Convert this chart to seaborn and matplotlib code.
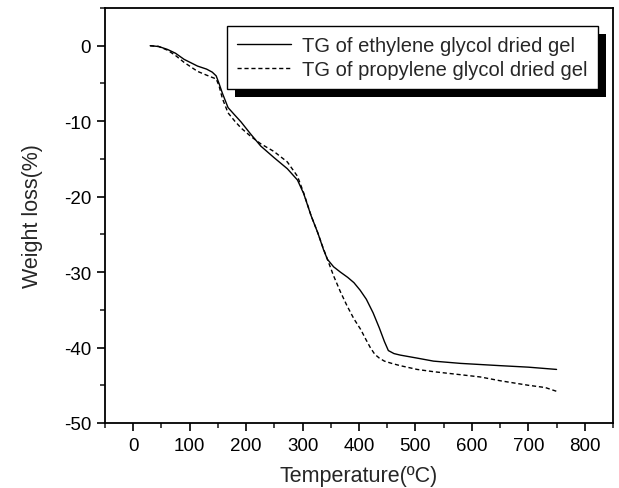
import matplotlib
matplotlib.use("Agg")
import matplotlib.pyplot as plt
from matplotlib.patches import Rectangle
from matplotlib.transforms import IdentityTransform
from matplotlib.ticker import MultipleLocator
import numpy as np
import pandas as pd
import seaborn as sns

# Thermogravimetric curves of the two dried gels
temp_eg = [30, 45, 61, 75, 90, 114, 130, 140, 147, 152, 158, 168, 180, 191, 208,
           226, 249, 273, 291, 302, 315, 327, 337, 344, 355, 367, 380, 391, 402,
           413, 425, 436, 445, 452, 462, 473, 503, 532, 580, 650, 700, 750]
loss_eg = [0, -0.1, -0.5, -1.0, -1.8, -2.7, -3.1, -3.5, -4.0, -5.0, -6.3, -8.2,
           -9.2, -10.1, -11.7, -13.3, -14.8, -16.3, -17.8, -19.6, -22.5, -24.8,
           -27.0, -28.3, -29.3, -30.0, -30.7, -31.4, -32.4, -33.6, -35.4, -37.4,
           -39.2, -40.4, -40.8, -41.0, -41.4, -41.8, -42.1, -42.4, -42.6, -42.9]

temp_pg = [30, 45, 61, 75, 90, 114, 130, 140, 147, 152, 158, 168, 180, 191, 208,
           226, 249, 273, 291, 302, 315, 327, 335, 345, 355, 367, 379, 391, 403,
           412, 420, 428, 436, 445, 458, 473, 503, 532, 580, 615, 650, 700, 730, 750]
loss_pg = [0, -0.1, -0.6, -1.3, -2.2, -3.4, -3.9, -4.2, -4.4, -5.3, -7.0, -8.9,
           -10.0, -10.9, -12.0, -13.0, -14.0, -15.4, -17.3, -19.5, -22.5, -24.8,
           -26.5, -28.5, -30.5, -32.6, -34.5, -36.2, -37.6, -38.9, -40.0, -40.9,
           -41.4, -41.8, -42.1, -42.4, -42.9, -43.2, -43.6, -43.9, -44.4, -45.0,
           -45.3, -45.8]

label_eg = "TG of ethylene glycol dried gel"
label_pg = "TG of propylene glycol dried gel"

df = pd.concat([
    pd.DataFrame({"T": temp_eg, "W": loss_eg, "sample": label_eg}),
    pd.DataFrame({"T": temp_pg, "W": loss_pg, "sample": label_pg}),
], ignore_index=True)

sns.set_theme(style="ticks")
plt.rcParams["font.family"] = ["Liberation Sans", "DejaVu Sans"]
plt.rcParams["axes.unicode_minus"] = False

fig = plt.figure(figsize=(6.19, 4.89), dpi=100)
ax = fig.add_axes([105 / 619, 1 - 424 / 489, (613 - 105) / 619, (424 - 9) / 489])

sns.lineplot(data=df, x="T", y="W", style="sample", sort=False,
             dashes={label_eg: "", label_pg: (3, 2)}, color="black",
             linewidth=1.0, ax=ax, legend=True)

ax.set_xlim(-50, 850)
ax.set_ylim(-50, 5)
ax.xaxis.set_major_locator(MultipleLocator(100))
ax.xaxis.set_minor_locator(MultipleLocator(50))
ax.yaxis.set_major_locator(MultipleLocator(10))
ax.yaxis.set_minor_locator(MultipleLocator(5))
ax.tick_params(which="major", direction="out", length=6, width=1.2,
               labelsize=13.5, colors="black", pad=4)
ax.tick_params(which="minor", direction="out", length=3.5, width=1.2)
for s in ax.spines.values():
    s.set_visible(True)
    s.set_linewidth(1.3)
    s.set_color("black")

ax.set_xlabel("Temperature(ºC)", fontsize=15.5, labelpad=8)
ax.set_ylabel("Weight loss(%)", fontsize=15.5, labelpad=15)

handles, labels = ax.get_legend_handles_labels()
leg = ax.legend(handles, labels, loc="upper right",
                bbox_to_anchor=(598 / 619, 1 - 27 / 489),
                bbox_transform=fig.transFigure, fontsize=14.5,
                frameon=True, fancybox=False, edgecolor="black",
                framealpha=1, handlelength=2.7, handletextpad=0.55,
                borderpad=0.5, labelspacing=0.25, borderaxespad=0)
leg.get_frame().set_linewidth(1.0)

# solid drop shadow behind the legend box
fig.canvas.draw()
bb = leg.get_window_extent()
off = 8
shadow = Rectangle((bb.x0 + off, bb.y0 - off), bb.width, bb.height,
                   transform=IdentityTransform(), facecolor="black",
                   edgecolor="none", zorder=leg.get_zorder() - 0.1)
ax.add_artist(shadow)

fig.savefig("out.png", dpi=100)
